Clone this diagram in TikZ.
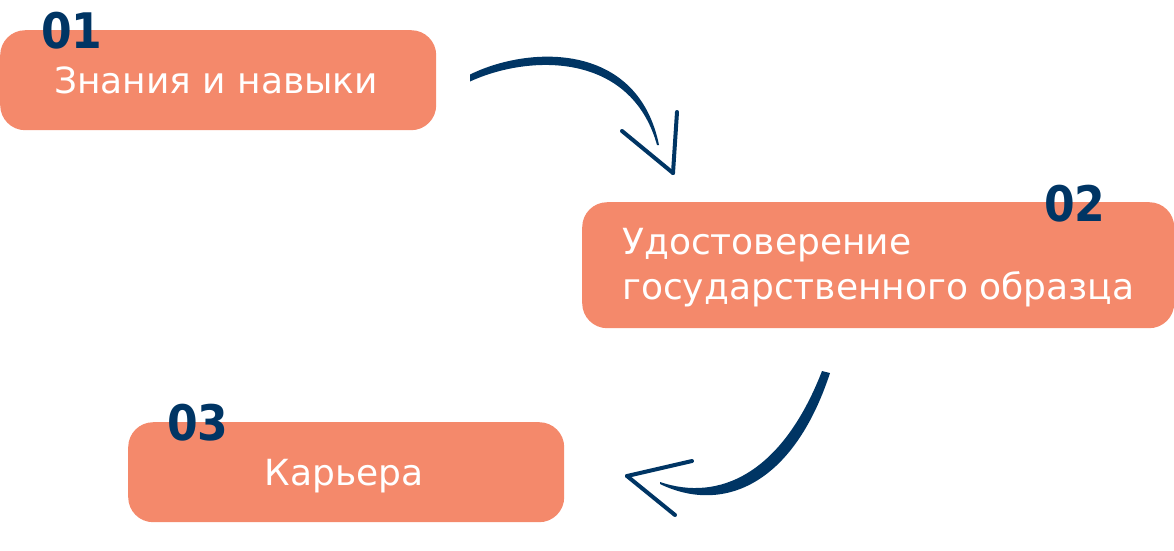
\documentclass[tikz,border=0pt]{standalone}
\usepackage{fontspec}
\setmainfont{DejaVu Sans}
\newfontfamily\numfont{DejaVu Sans Condensed}
\usetikzlibrary{calc}
\definecolor{boxfill}{HTML}{F4896B}
\definecolor{navy}{HTML}{003564}
\tikzset{
  box/.style={fill=boxfill, rounded corners=25pt, inner sep=0pt, anchor=north west},
  label/.style={text=white, font=\fontsize{36}{45}\selectfont, inner sep=0pt},
  num/.style={text=navy, font=\numfont\fontsize{49}{50}\selectfont\bfseries, inner sep=0pt, anchor=base west},
  head/.style={draw=navy, line width=4pt, line cap=round},
  brush/.style={fill=navy}
}
\begin{document}
\begin{tikzpicture}[x=1pt,y=-1pt]
\useasboundingbox (0,0) rectangle (1174,550);
% boxes
\node[box, minimum width=436pt, minimum height=100pt] (b1) at (0,30) {};
\node[box, minimum width=592pt, minimum height=126pt] (b2) at (582,202) {};
\node[box, minimum width=436pt, minimum height=100pt] (b3) at (128,422) {};
% texts
\node[label, anchor=base] (t1) at (216,93) {Знания и навыки};
\node[label, anchor=base west] (t2) at (622,254) {Удостоверение};
\node[label, anchor=base west] (t2b) at (622,299) {государственного образца};
\node[label, anchor=base] (t3) at (344,485) {Карьера};
% numbers
\node[num] (n1) at (41,48) {01};
\node[num] (n2) at (1044,221) {02};
\node[num] (n3) at (167,440) {03};
% arrow 1
\coordinate (a1s) at (470,78);
\coordinate (a1e) at (658,145);
\coordinate (a1t) at (673,173);
\fill[brush] ($(a1s)+(0,-3.5)$) .. controls (530,45) and (638,42) .. ($(a1e)+(1,0)$)
  -- ($(a1e)+(-1,0)$) .. controls (631,52) and (530,54) .. ($(a1s)+(0,3.5)$) -- cycle;
\draw[head] (677,112) -- (a1t);
\draw[head] (622,131) -- (a1t);
% arrow 2
\coordinate (a2s) at (826,372);
\coordinate (a2e) at (660,483);
\coordinate (a2t) at (627,476);
\fill[brush] ($(a2s)+(4,1)$) .. controls (793,486) and (722,514) .. ($(a2e)+(0,1)$)
  -- ($(a2e)+(0,-1)$) .. controls (719,502) and (782,474) .. ($(a2s)+(-4,-1)$) -- cycle;
\draw[head] (692,461) -- (a2t);
\draw[head] (a2t) -- (675,515);
\end{tikzpicture}
\end{document}
